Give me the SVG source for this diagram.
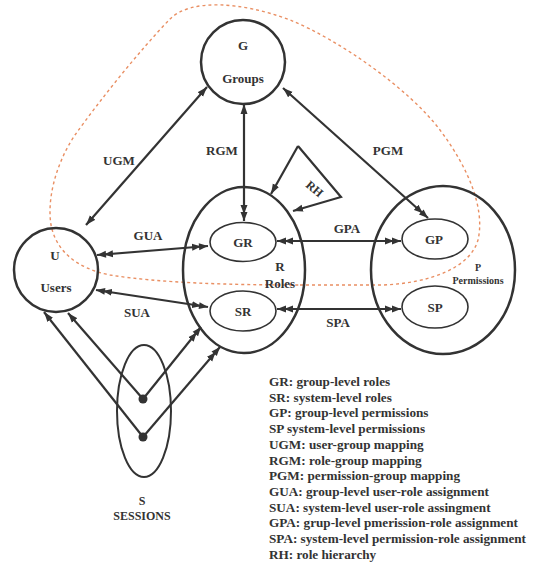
<svg xmlns="http://www.w3.org/2000/svg" width="539" height="567" viewBox="0 0 539 567">
<style>
text{font-family:"Liberation Serif","Times New Roman",serif;font-weight:bold;fill:#333;}
.n{font-size:13px;text-anchor:middle;}
.s{font-size:10px;text-anchor:middle;}
.lg{font-size:13.2px;}
.big{fill:none;stroke:#333;stroke-width:2.5;}
.sm{fill:none;stroke:#333;stroke-width:1.6;}
.c{fill:none;stroke:#333;stroke-width:2.2;}
.c1{marker-end:url(#h1);}
.c1b{marker-start:url(#h1);marker-end:url(#h1);}
.c2{marker-start:url(#h2);marker-end:url(#h2);}
.c12{marker-start:url(#h1);marker-end:url(#h2);}
.c2e{marker-end:url(#h2);}
</style>
<defs>
<marker id="h1" markerUnits="userSpaceOnUse" markerWidth="12" markerHeight="8" refX="10" refY="4" orient="auto-start-reverse">
<path d="M0,0.5 L10,4 L0,7.5 z" fill="#333"/>
</marker>
<marker id="h2" markerUnits="userSpaceOnUse" markerWidth="18" markerHeight="8" refX="16" refY="4" orient="auto-start-reverse">
<path d="M0,0.5 L9,4 L0,7.5 z M7,0.5 L16,4 L7,7.5 z" fill="#333"/>
</marker>
</defs>
<rect width="539" height="567" fill="#fff"/>
<path d="M300 285 L383 285 C430 283 470 268 478 240 C485 210 470 170 440 130 C410 90 340 40 290 20 C240 1 190 -1 170 19 C140 50 100 100 75 135 C55 165 47 200 51 225 C56 250 75 268 110 275 C160 283 230 285 300 285 Z" fill="none" stroke="#e98f63" stroke-width="1.4" stroke-dasharray="3 3"/>
<g id="G">
<circle cx="243" cy="62" r="42" class="big"/>
<text x="243" y="50" class="n">G</text>
<text x="243" y="83" class="n">Groups</text>
</g>
<g id="U">
<circle cx="56" cy="270" r="42" class="big"/>
<text x="55" y="260" class="n">U</text>
<text x="56" y="292" class="n">Users</text>
</g>
<g id="R">
<ellipse cx="244" cy="270" rx="61" ry="83" class="big"/>
<text x="280" y="271" class="n">R</text>
<text x="280" y="288" class="n">Roles</text>
</g>
<g id="GR">
<ellipse cx="243" cy="242" rx="33" ry="19.5" class="sm"/>
<text x="243" y="247" class="n">GR</text>
</g>
<g id="SR">
<ellipse cx="243" cy="311" rx="33" ry="20" class="sm"/>
<text x="243" y="316" class="n">SR</text>
</g>
<g id="P">
<ellipse cx="443" cy="270" rx="72" ry="84" class="big"/>
<text x="478" y="271" class="s">P</text>
<text x="478" y="284" class="s">Permissions</text>
</g>
<g id="GP">
<ellipse cx="435" cy="239" rx="33" ry="20" class="sm"/>
<text x="434" y="244" class="n">GP</text>
</g>
<g id="SP">
<ellipse cx="435" cy="307" rx="33" ry="21" class="sm"/>
<text x="435" y="312" class="n">SP</text>
</g>
<g id="S">
<ellipse cx="144" cy="411" rx="27" ry="66" fill="none" stroke="#333" stroke-width="2"/>
<circle cx="143" cy="399" r="4.5" fill="#333"/>
<circle cx="143" cy="437" r="4.5" fill="#333"/>
<text x="142" y="505" class="n" style="font-size:12px">S</text>
<text x="142" y="520" class="n" style="font-size:12px">SESSIONS</text>
</g>
<g id="connectors">
<line x1="86" y1="225" x2="207" y2="87" class="c c1b"/>
<line x1="244" y1="104" x2="244" y2="221" class="c c12"/>
<line x1="283" y1="88" x2="428" y2="218" class="c c12"/>
<line x1="97" y1="255" x2="208" y2="246" class="c c2"/>
<line x1="96" y1="290" x2="208" y2="307" class="c c2"/>
<line x1="277" y1="241" x2="401" y2="241" class="c c2"/>
<line x1="277" y1="309" x2="401" y2="309" class="c c2"/>
<polyline points="298,146 271,194" class="c c1"/>
<polyline points="298,146 341,197 293,211" class="c c1"/>
<line x1="143" y1="399" x2="68" y2="313" class="c c1"/>
<line x1="143" y1="437" x2="44" y2="312" class="c c1"/>
<line x1="143" y1="399" x2="201" y2="327" class="c c2e"/>
<line x1="143" y1="437" x2="220" y2="347" class="c c2e"/>
<text x="119" y="165" class="n">UGM</text>
<text x="222" y="155" class="n">RGM</text>
<text x="388" y="155" class="n">PGM</text>
<text x="148" y="240" class="n">GUA</text>
<text x="137" y="317" class="n">SUA</text>
<text x="347" y="233" class="n">GPA</text>
<text x="338" y="327" class="n">SPA</text>
<text x="0" y="0" class="n" style="font-size:12px" transform="translate(312,192) rotate(40)">RH</text>
</g>
<g id="legend">
<text x="269" y="386" class="lg">GR: group-level roles</text>
<text x="269" y="401.7" class="lg">SR: system-level roles</text>
<text x="269" y="417.4" class="lg">GP: group-level permissions</text>
<text x="269" y="433.1" class="lg">SP system-level permissions</text>
<text x="269" y="448.8" class="lg">UGM: user-group mapping</text>
<text x="269" y="464.5" class="lg">RGM: role-group mapping</text>
<text x="269" y="480.2" class="lg">PGM: permission-group mapping</text>
<text x="269" y="495.9" class="lg">GUA: group-level user-role assignment</text>
<text x="269" y="511.6" class="lg">SUA: system-level user-role assingment</text>
<text x="269" y="527.3" class="lg">GPA: grup-level pmerission-role assignment</text>
<text x="269" y="543" class="lg">SPA: system-level permission-role assignment</text>
<text x="269" y="558.7" class="lg">RH: role hierarchy</text>
</g>
</svg>
